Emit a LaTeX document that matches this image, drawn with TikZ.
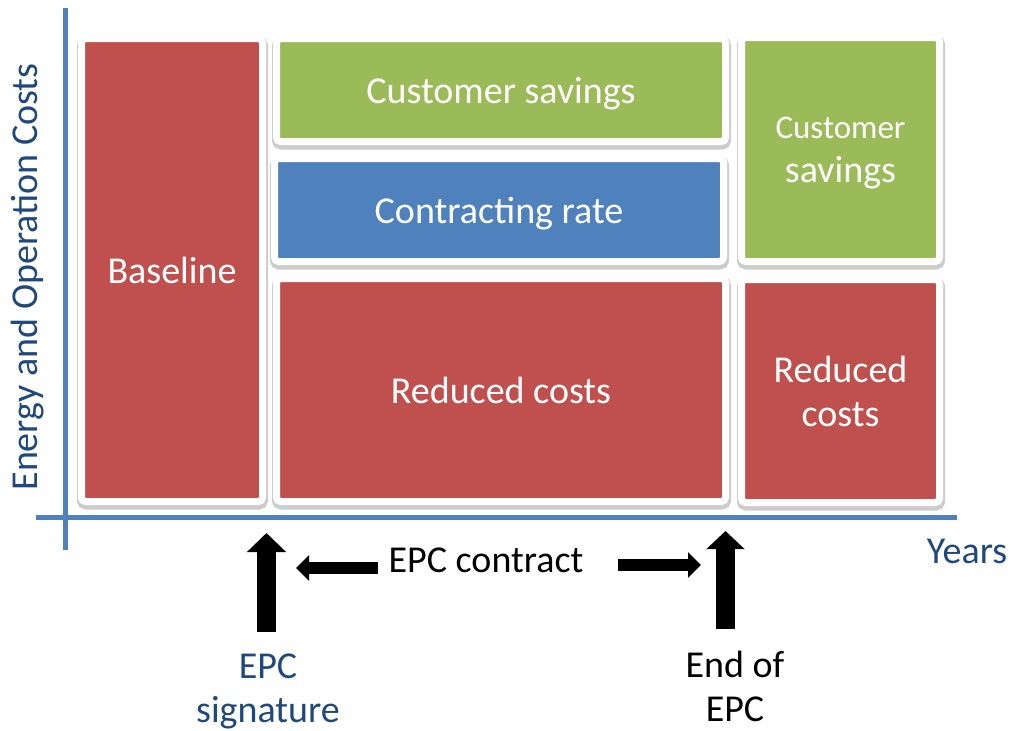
\documentclass[tikz,border=0pt]{standalone}
\usepackage{fontspec}
\setmainfont{Carlito}
\usetikzlibrary{arrows.meta}
\definecolor{cred}{HTML}{C0504D}
\definecolor{cgreen}{HTML}{9BBB59}
\definecolor{cblue}{HTML}{4F81BD}
\definecolor{ctext}{HTML}{1F497D}
\tikzset{
  box/.style={draw=white, line width=7pt, rounded corners=4pt, text=white,
    inner sep=0pt, outer sep=0pt, align=center, text depth=0pt,
    font=\fontsize{38}{46}\selectfont,
    preaction={draw=black!20, fill=black!20, line width=10pt,
      transform canvas={xshift=0.5pt, yshift=-3pt}}},
  axis/.style={draw=cblue, line width=5pt},
  lbl/.style={font=\fontsize{38}{44}\selectfont, align=center, inner sep=0pt},
  blockarrow/.style={draw=black, line width=#1},
}
\begin{document}
\begin{tikzpicture}[x=1pt, y=-1pt]
\useasboundingbox (0,0) rectangle (1013,731);
% axes
\coordinate (ytop) at (65.5,8);
\coordinate (ybot) at (65.5,550);
\coordinate (xl) at (36,517.5);
\coordinate (xr) at (957,517.5);
\draw[axis] (ybot) -- (ytop);
\draw[axis] (xl) -- (xr);
% boxes
\node[box, fill=cred, minimum width=181pt, minimum height=463pt] (base) at (172,270) {Baseline};
\node[box, fill=cgreen, minimum width=449pt, minimum height=103pt] (cs1) at (501,90) {Customer savings};
\node[box, fill=cblue, minimum width=449pt, minimum height=103pt] (cr) at (499,210) {Contracting rate};
\node[box, fill=cred, minimum width=449pt, minimum height=223pt] (rc1) at (501,390) {Reduced costs};
\node[box, fill=cgreen, minimum width=198pt, minimum height=224pt] (cs2) at (840.5,149.5) {\rule{0pt}{22pt}{\fontsize{33}{40}\selectfont Customer}\\[-2pt]savings};
\node[box, fill=cred, minimum width=198pt, minimum height=223pt] (rc2) at (840.5,391) {Reduced\\[-2pt]costs};
% labels
\node[lbl, text=ctext, rotate=90] (ylab) at (28,277) {Energy and Operation Costs};
\node[lbl, text=ctext] (years) at (967,551) {Years};
\node[lbl] (epc) at (486,560) {EPC contract};
\node[lbl, text=ctext] (sig) at (268,691) {EPC\\signature};
\node[lbl] (end) at (735,686) {End of\\EPC};
% arrows
\coordinate (s1) at (266.5,632);
\coordinate (t1) at (266.5,533);
\coordinate (s2) at (725.5,629);
\coordinate (t2) at (725.5,531);
\coordinate (la) at (378,568);
\coordinate (lt) at (296,568);
\coordinate (ra) at (618,565);
\coordinate (rt) at (701,565);
\draw[blockarrow=19pt, -{Triangle[length=19pt, width=38pt]}] (s1) -- (t1);
\draw[blockarrow=19pt, -{Triangle[length=18pt, width=37pt]}] (s2) -- (t2);
\draw[blockarrow=12pt, -{Triangle[length=13pt, width=25pt]}] (la) -- (lt);
\draw[blockarrow=12pt, -{Triangle[length=13pt, width=25pt]}] (ra) -- (rt);
\end{tikzpicture}
\end{document}
